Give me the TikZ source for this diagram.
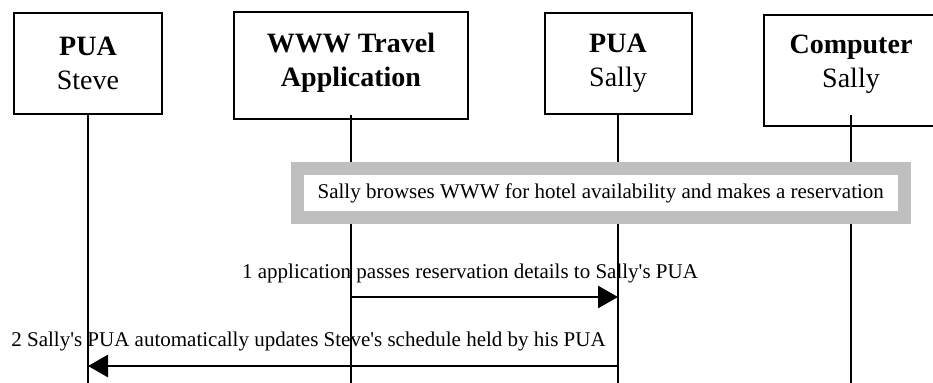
\documentclass[tikz,border=0pt]{standalone}
\usepackage{fontspec}
\setmainfont{Liberation Serif}
\usetikzlibrary{arrows.meta}
\tikzset{
  actor/.style={draw, line width=1pt, align=center, inner sep=0pt, font=\fontsize{14}{17}\selectfont},
  lifeline/.style={line width=0.7pt},
  msg/.style={line width=1.4pt, -{Triangle[length=10pt,width=11pt]}},
  msgtext/.style={inner sep=0pt, anchor=base, font=\fontsize{10.5}{12}\selectfont},
}
\newcommand{\apos}{\textquotesingle}
\begin{document}
\begin{tikzpicture}[x=0.5pt,y=-0.5pt]
    \useasboundingbox (0,0) rectangle (933,383);
    \node[actor, minimum width=74pt, minimum height=50.5pt] (steve) at (88,63.5) {\textbf{PUA}\\Steve}; %pua steve
    \node[actor, minimum width=117pt, minimum height=53.5pt, text depth=6pt] (app) at (351,65.5) {\textbf{WWW Travel}\\\textbf{Application}}; %application
    \node[actor, minimum width=73.5pt, minimum height=50.5pt] (sally) at (618,63.5) {\textbf{PUA}\\Sally}; %pua sally
    \node[actor, minimum width=87pt, minimum height=55.5pt, text depth=9.5pt] (comp) at (851,70.5) {\textbf{Computer}\\Sally}; %computer
    \coordinate (steve-end) at (88,383);
    \coordinate (app-end) at (351,383);
    \coordinate (sally-end) at (618,383);
    \coordinate (comp-end) at (851,383);
    \draw[lifeline] (steve.south) -- (steve-end);
    \draw[lifeline] (app.south |- steve.south) -- (app-end);
    \draw[lifeline] (sally.south) -- (sally-end);
    \draw[lifeline] (comp.south |- steve.south) -- (comp-end);
    \node[draw=black!25, fill=white, line width=6.5pt, minimum width=303.25pt, minimum height=24.25pt, inner sep=0pt, font=\fontsize{10.5}{12}\selectfont] (browse) at (600.75,193.25) {Sally browses WWW for hotel availability and makes a reservation}; %cadre gris
    \coordinate (m1-from) at (351,297);
    \coordinate (m1-to) at (618,297);
    \coordinate (m2-from) at (618,366);
    \coordinate (m2-to) at (88,366);
    \node[msgtext] (msg1) at (470,279) {1 application passes reservation details to Sally\apos s PUA};
    \draw[msg] (m1-from) -- (m1-to); %message 1
    \node[msgtext] (msg2) at (308.5,347) {2 Sally\apos s PUA automatically updates Steve\apos s schedule held by his PUA};
    \draw[msg] (m2-from) -- (m2-to); %message 2
\end{tikzpicture}
\end{document}
